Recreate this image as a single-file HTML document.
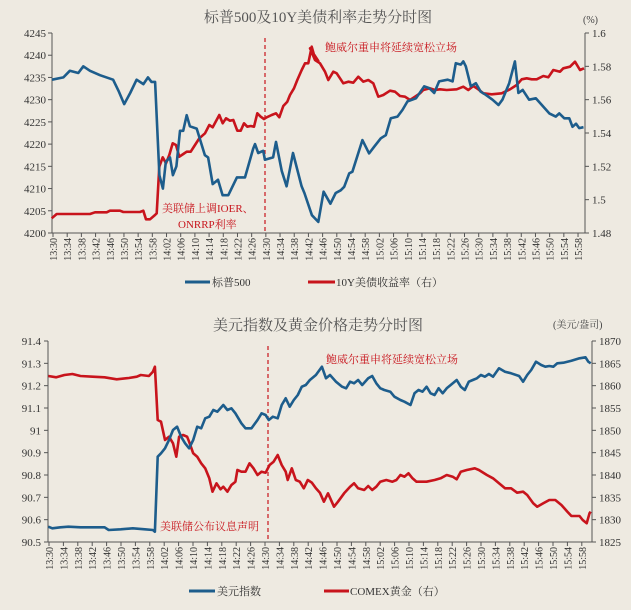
<!DOCTYPE html>
<html><head><meta charset="utf-8"><style>
html,body{margin:0;padding:0;background:#eeeae1;}
svg{display:block;font-family:"Liberation Serif","Noto Serif CJK SC",serif;}
</style></head><body>
<svg id="s" width="631" height="610" viewBox="0 0 631 610" xmlns="http://www.w3.org/2000/svg">
<rect width="631" height="610" fill="#eeeae1"/>
<text x="318" y="22" font-size="15" fill="#555" text-anchor="middle">标普500及10Y美债利率走势分时图</text>
<text x="583" y="23" font-size="10" fill="#444">(%)</text>
<text x="318" y="330" font-size="15" fill="#555" text-anchor="middle">美元指数及黄金价格走势分时图</text>
<text x="553" y="328" font-size="10" fill="#444">(美元/盎司)</text>
<g id="g"></g>
</svg>
<script>
var NS="http://www.w3.org/2000/svg",g=document.getElementById('g');
function el(t,a,txt){var e=document.createElementNS(NS,t);for(var k in a)e.setAttribute(k,a[k]);if(txt!=null)e.textContent=txt;g.appendChild(e);return e;}
function poly(pts,c){el('polyline',{points:pts.map(function(p){return p[0].toFixed(1)+','+p[1].toFixed(1)}).join(' '),fill:'none',stroke:c,'stroke-width':2.6,'stroke-linejoin':'round'});}
var BL='#1d5d8c',RD='#c8141c';
// TOP axes
var L=52,R=585,T=33,B=233;
el('line',{x1:L,y1:T,x2:L,y2:B,stroke:'#555'});el('line',{x1:L,y1:B,x2:R,y2:B,stroke:'#555'});el('line',{x1:R,y1:T,x2:R,y2:B,stroke:'#555'});
for(var i=0;i<=9;i++){var y=T+i*(B-T)/9;el('line',{x1:L-4,y1:y,x2:L,y2:y,stroke:'#555'});el('text',{x:L-6,y:y+4,'font-size':11,fill:'#333','text-anchor':'end'},String(4245-5*i));}
for(var i=0;i<=6;i++){var y=T+i*(B-T)/6;el('line',{x1:R,y1:y,x2:R+4,y2:y,stroke:'#555'});el('text',{x:R+7,y:y+4,'font-size':11,fill:'#333'},String(+(1.6-0.02*i).toFixed(2)));}
function tl(m){var h=13+Math.floor((30+m)/60),mm=(30+m)%60;return h+':'+(mm<10?'0':'')+mm;}
for(var i=0;i<38;i++){var x=53+i*14.19;el('line',{x1:x,y1:B,x2:x,y2:B+4,stroke:'#555'});el('text',{x:0,y:0,'font-size':10,fill:'#333','text-anchor':'end',transform:'translate('+(x+4)+','+(B+5)+') rotate(-90)'},tl(i*4));}
el('line',{x1:265,y1:38,x2:265,y2:B,stroke:RD,'stroke-width':1.2,'stroke-dasharray':'4,3'});
function tx(t){return 52+t*3.555;}
var bt=[[0,4234.5],[3.2,4235],[5,4236.5],[7.4,4236],[8.8,4237.5],[10.7,4236.5],[13.5,4235.5],[17.2,4234.5],[18.7,4232],[20.3,4229],[22,4231.5],[23.8,4234.5],[25.7,4233.5],[27,4235],[28,4234],[29,4234],[30.2,4213],[31.2,4210],[32,4216],[33.2,4217],[34,4213],[35,4215],[36,4223],[36.9,4223],[37.9,4226.5],[38.8,4224],[40.7,4223.5],[43,4217.5],[43.9,4217],[45.2,4211],[46.7,4212],[48,4208.5],[49.6,4208.5],[52,4212.5],[54.3,4212.5],[56.6,4219],[57.1,4220],[58,4218],[59.4,4218.5],[59.9,4216.5],[62.2,4217],[63,4220.5],[64.6,4214],[66,4210.5],[67.8,4218],[70.2,4210.5],[71,4209],[73.1,4204],[74.9,4202.5],[76.4,4209.3],[78.3,4206.6],[79.8,4209],[81.2,4209.6],[82.2,4210.4],[83.6,4213.4],[84.5,4213.8],[87.3,4220.9],[89.2,4217.9],[90.6,4219.4],[92.5,4221.3],[93.9,4222],[95.3,4225.8],[97.2,4226.2],[98.6,4227.7],[100,4229.6],[102.4,4230.3],[104.7,4233],[106.1,4232.6],[107.5,4231.5],[108.9,4234.1],[111.3,4234.5],[112.7,4234.1],[113.6,4238.2],[115,4237.9],[115.7,4238.6],[116.4,4237.5],[117.8,4233],[119.2,4233.7],[120.6,4231.8],[122,4231.1],[123.9,4230],[125.6,4228.8],[126.7,4230],[128.6,4233.7],[130.2,4238.6],[131.2,4231.5],[132.4,4232.2],[134.2,4230],[136.1,4230.3],[139.9,4226.9],[141.7,4226.2],[142.7,4226.9],[144.1,4225.8],[145.5,4225.8],[146.4,4223.9],[147.4,4224.6],[148.3,4223.6],[149.5,4223.8]];
var r1=[[155,655],[170,642],[200,642],[270,642],[285,637],[320,637],[330,632],[360,632],[370,636],[420,636],[430,632],[438,658],[450,658],[465,645],[470,640],[478,500],[488,472],[498,490],[508,465],[518,430],[528,435],[538,470],[550,462],[560,455],[572,455],[585,435],[598,415],[615,400],[628,375],[638,382],[658,345],[668,370],[678,355],[690,362],[700,360],[712,392],[722,392],[732,370],[742,380],[752,378],[762,380],[772,340],[782,350],[792,357],[800,352],[815,345],[828,340],[838,352],[850,318],[862,305],[870,285],[882,265],[892,240],[905,210],[915,190],[925,190],[935,140],[945,175],[955,183]];
var r2=[[0,145],[15,180],[30,190],[45,215],[55,240],[70,215],[80,220],[100,250],[115,245],[130,248],[145,230],[160,245],[175,240],[190,250],[205,290],[220,285],[240,272],[255,275],[270,288],[285,290],[300,300],[315,290],[330,280],[340,270],[360,265],[375,270],[390,268],[410,270],[440,268],[460,260],[475,270],[490,258],[505,268],[520,280],[545,283],[575,280],[585,275],[600,268],[620,255],[635,238],[650,235],[665,238],[680,238],[700,228],[715,232],[730,210],[750,215],[760,205],[780,200],[795,185],[810,210],[822,205]];
var rp=r1.map(function(p){return[p[0]/3,p[1]/3]}).concat(r2.map(function(p){return[310+p[0]/3,p[1]/3]}));
poly(rp,RD);
poly(bt.map(function(p){return[tx(p[0]),T+(4245-p[1])*(B-T)/45]}),BL);
el('text',{x:162,y:212,'font-size':11,fill:RD},'美联储上调IOER、');
el('text',{x:178,y:228,'font-size':11,fill:RD},'ONRRP利率');
el('text',{x:325,y:51,'font-size':11,fill:RD},'鲍威尔重申将延续宽松立场');
el('line',{x1:185,y1:282,x2:210,y2:282,stroke:BL,'stroke-width':3});
el('text',{x:212,y:286,'font-size':11,fill:'#333'},'标普500');
el('line',{x1:308,y1:282,x2:335,y2:282,stroke:RD,'stroke-width':3});
el('text',{x:336,y:286,'font-size':11,fill:'#333'},'10Y美债收益率（右）');
// BOTTOM
var L2=48,R2=592,T2=341,B2=542;
el('line',{x1:L2,y1:T2,x2:L2,y2:B2,stroke:'#555'});el('line',{x1:L2,y1:B2,x2:R2,y2:B2,stroke:'#555'});el('line',{x1:R2,y1:T2,x2:R2,y2:B2,stroke:'#555'});
var ll=['91.4','91.3','91.2','91.1','91','90.9','90.8','90.7','90.6','90.5'];
for(var i=0;i<=9;i++){var y=T2+i*(B2-T2)/9;el('line',{x1:L2-4,y1:y,x2:L2,y2:y,stroke:'#555'});el('text',{x:L2-7,y:y+4,'font-size':11,fill:'#333','text-anchor':'end'},ll[i]);el('line',{x1:R2,y1:y,x2:R2+4,y2:y,stroke:'#555'});el('text',{x:R2+7,y:y+4,'font-size':11,fill:'#333'},String(1870-5*i));}
for(var i=0;i<38;i++){var x=49+i*14.4;el('line',{x1:x,y1:B2,x2:x,y2:B2+4,stroke:'#555'});el('text',{x:0,y:0,'font-size':10,fill:'#333','text-anchor':'end',transform:'translate('+(x+4)+','+(B2+5)+') rotate(-90)'},tl(i*4));}
el('line',{x1:268,y1:346,x2:268,y2:B2,stroke:RD,'stroke-width':1.2,'stroke-dasharray':'4,3'});
var b3=[[120,680],[130,685],[150,682],[170,680],[200,682],[260,682],[270,690],[300,688],[330,685],[360,688],[380,690],[385,695],[392,470],[400,460],[410,445],[420,420],[430,390],[440,380],[450,410],[460,430],[470,445],[480,420],[490,380],[500,385],[510,355],[520,350],[530,330],[540,335],[555,315],[565,330],[575,325],[585,340],[600,370],[610,385],[625,385],[640,360],[650,340],[660,345],[668,360],[678,350],[690,355],[700,315],[710,295],[720,320],[730,300],[740,285],[750,260],[760,255],[770,240],[785,225],[800,200],[810,235],[820,225],[835,245],[850,260],[860,265],[870,245],[880,250],[890,240],[900,255],[915,235],[925,228],[935,250],[945,265],[955,270],[970,275],[980,290],[995,300],[1005,305],[1020,315],[1030,280],[1040,270],[1050,275],[1060,260],[1070,280],[1080,285],[1090,265],[1100,280],[1110,265],[1120,255],[1135,240],[1145,260],[1155,270],[1165,245],[1175,240],[1185,235],[1195,225],[1205,230],[1215,222],[1225,230],[1240,205],[1255,215],[1270,220],[1290,228],[1300,245],[1310,225],[1320,210],[1332,185],[1345,195],[1355,200],[1365,198],[1375,200],[1385,190],[1400,188],[1420,182],[1440,175],[1455,172],[1462,185],[1468,190]];
var r3=[[120,228],[140,232],[160,225],[180,222],[200,228],[230,230],[260,232],[290,238],[320,234],[340,230],[350,225],[370,228],[380,215],[385,200],[392,360],[400,365],[410,420],[420,410],[430,430],[438,470],[445,410],[455,405],[465,410],[470,425],[480,460],[490,470],[500,490],[510,505],[520,535],[528,575],[538,550],[548,568],[555,560],[565,575],[575,555],[585,545],[590,510],[600,515],[610,515],[620,490],[630,505],[640,525],[650,515],[660,518],[670,495],[680,485],[690,465],[700,495],[710,515],[715,540],[725,505],[735,540],[745,545],[755,565],[765,540],[775,548],[785,565],[795,578],[805,605],[815,580],[830,620],[840,605],[855,580],[870,560],[880,550],[890,565],[905,570],[915,558],[925,570],[935,560],[945,545],[960,540],[975,545],[985,540],[995,525],[1005,530],[1015,520],[1025,535],[1035,545],[1045,545],[1060,545],[1080,540],[1095,535],[1110,525],[1125,530],[1135,538],[1145,515],[1160,510],[1180,505],[1190,510],[1210,525],[1225,535],[1240,550],[1255,565],[1270,565],[1285,578],[1300,575],[1310,585],[1325,610],[1335,620],[1350,610],[1365,600],[1380,600],[1395,615],[1410,635],[1420,648],[1440,648],[1448,660],[1458,670],[1465,640],[1468,635]];
function cv(p){return[p[0]/2.485,300+p[1]/3];}
poly(r3.map(cv),RD);
poly(b3.map(cv),BL);
el('text',{x:326,y:363,'font-size':11,fill:RD},'鲍威尔重申将延续宽松立场');
el('text',{x:160,y:530,'font-size':11,fill:RD},'美联储公布议息声明');
el('line',{x1:189,y1:591,x2:215,y2:591,stroke:BL,'stroke-width':3});
el('text',{x:217,y:595,'font-size':11,fill:'#333'},'美元指数');
el('line',{x1:324,y1:591,x2:349,y2:591,stroke:RD,'stroke-width':3});
el('text',{x:350,y:595,'font-size':11,fill:'#333'},'COMEX黄金（右）');
</script>
</body></html>
